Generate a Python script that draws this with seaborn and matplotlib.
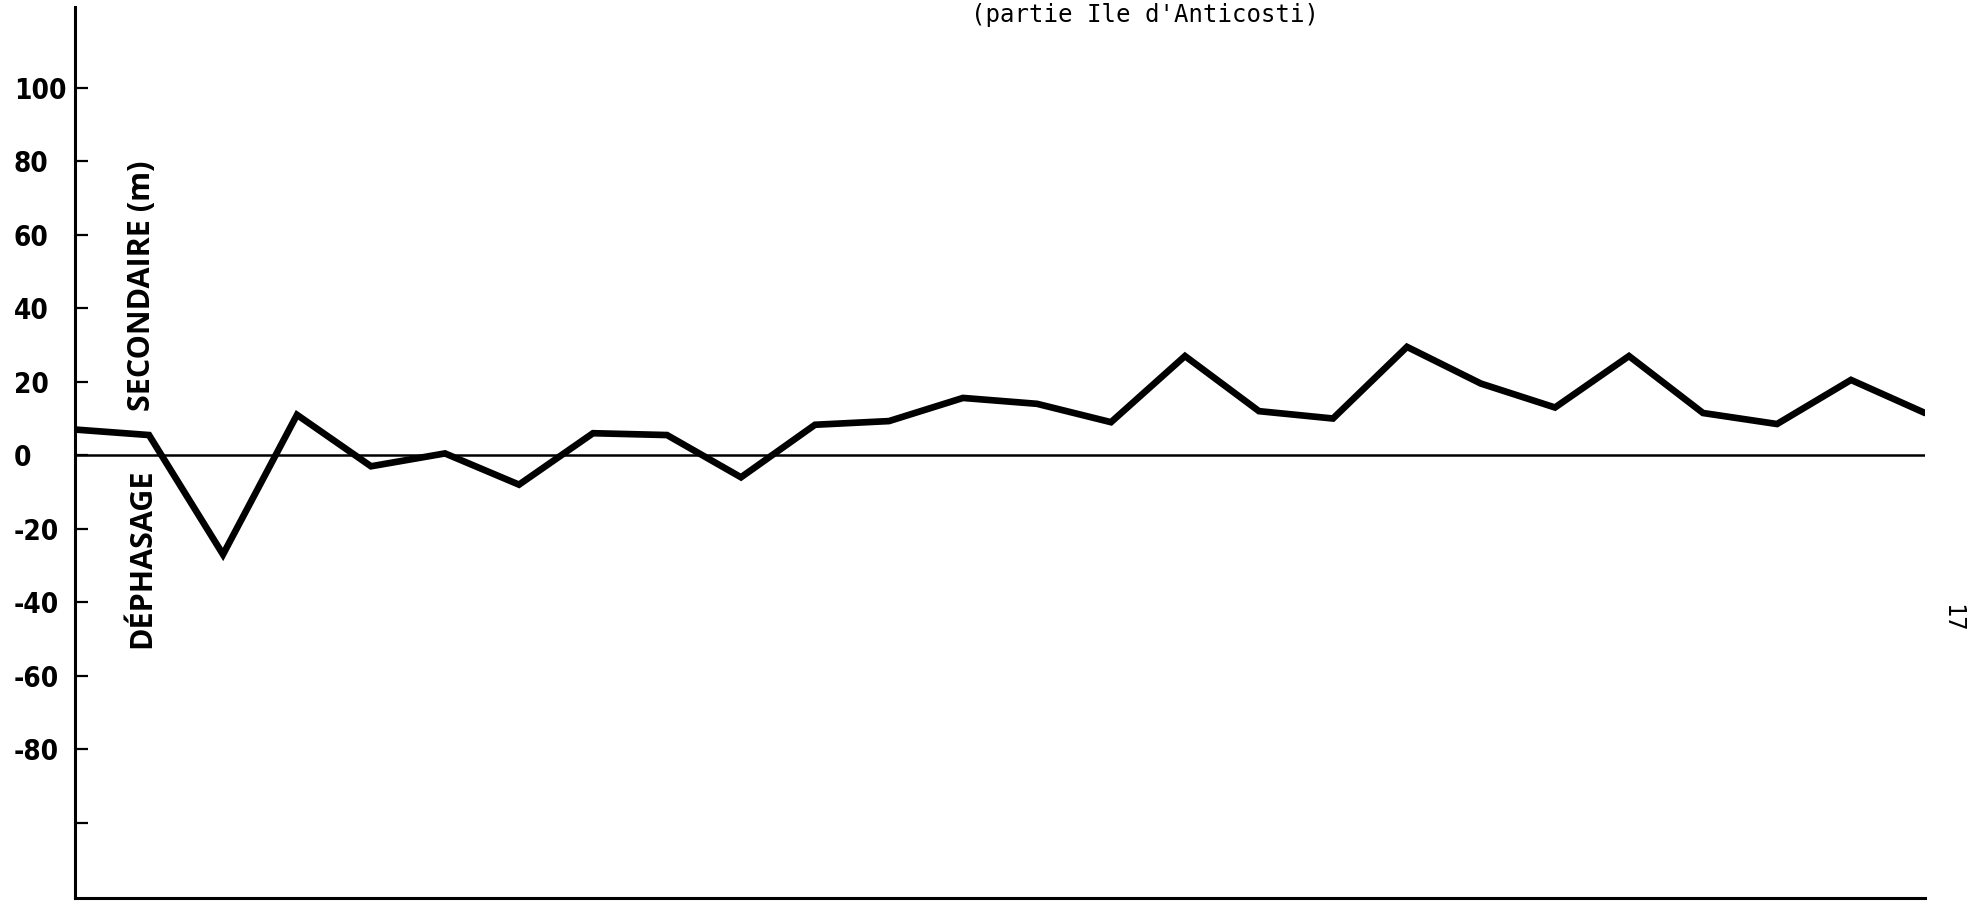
import matplotlib
matplotlib.use("Agg")
import matplotlib.pyplot as plt
import seaborn as sns
import pandas as pd

# Secondary phase shift along the Anticosti Island section (one value per station)
stations = list(range(26))
dephasage = [7, 5.5, -27, 11, -3, 0.5, -8, 6, 5.5, -6, 8.3, 9.3, 15.6,
             14, 9, 27, 12, 10, 29.5, 19.5, 13, 27, 11.5, 8.5, 20.5, 11.5]

ytick_values = [-100, -80, -60, -40, -20, 0, 20, 40, 60, 80, 100]
ytick_labels = ["", "-80", "-60", "-40", "-20", "0", "20", "40", "60", "80", "100"]

title_text = "(partie Ile d'Anticosti)"
ylabel_lower = "DÉPHASAGE"
ylabel_upper = "SECONDAIRE (m)"
page_number = "17"

sns.set_style("white")
plt.rcParams["font.family"] = ["DejaVu Sans"]
plt.rcParams["text.color"] = "black"

W, H = 1980, 907
fig = plt.figure(figsize=(W / 100, H / 100), dpi=100)
left_px, right_px, top_px, bottom_px = 75, 1925, 7, 898
ax = fig.add_axes([left_px / W, 1 - bottom_px / H,
                   (right_px - left_px) / W, (bottom_px - top_px) / H])

df = pd.DataFrame({"station": stations, "dephasage": dephasage})
ax.axhline(0, color="black", lw=1.8, zorder=1)
sns.lineplot(data=df, x="station", y="dephasage", ax=ax, color="black",
             lw=4.8, solid_joinstyle="miter", zorder=3)

ax.set_xlim(stations[0], stations[-1])
ax.set_ylim(-120.5, 122)
ax.set_xticks([])
ax.set_yticks(ytick_values)
ax.set_yticklabels(ytick_labels)
ax.tick_params(axis="y", left=True, direction="in", length=9, width=1.6,
               color="black", labelcolor="black", pad=44, labelsize=20)
for lab in ax.get_yticklabels():
    lab.set_horizontalalignment("left")
    lab.set_fontweight("bold")
    lab.set_fontstretch("condensed")
ax.set_xlabel("")
ax.set_ylabel("")

for side in ("top", "right"):
    ax.spines[side].set_visible(False)
for side in ("left", "bottom"):
    ax.spines[side].set_color("black")
    ax.spines[side].set_linewidth(2.2)

# split vertical axis title
label_font = dict(family=["Open Sans"], fontweight="bold", fontstretch="normal",
                  fontsize=22, rotation=90, ha="center", va="center", color="black")
fig.text(142 / W, 1 - 286 / H, ylabel_upper, **label_font)
fig.text(142 / W, 1 - 558 / H, ylabel_lower, **label_font)

mono = ["DejaVu Sans Mono"]
fig.text(1145 / W, 1 - 22 / H, title_text, family=mono,
         fontsize=17.3, ha="center", va="baseline", color="black")
fig.text(1952 / W, 1 - 618 / H, page_number, family=mono,
         fontsize=17, rotation=-90, ha="center", va="center", color="black")

fig.savefig("out.png", dpi=100, facecolor="white")
